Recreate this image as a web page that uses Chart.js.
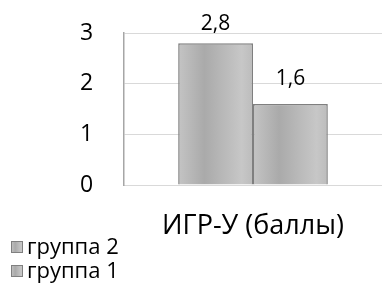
<!DOCTYPE html>
<html>
<head>
<meta charset="utf-8">
<script src="https://cdn.jsdelivr.net/npm/chart.js@4/dist/chart.umd.min.js"></script>
<style>
html,body{margin:0;padding:0;background:#fff;}
#wrap{width:382px;height:289px;position:relative;}
</style>
</head>
<body>
<div id="wrap"><canvas id="c" width="382" height="289"></canvas></div>
<script>
const categories = ["ИГР-У (баллы)"];
const seriesNames = ["группа 2", "группа 1"];
const group2Values = [2.8];
const group1Values = [1.6];
const yTicks = [0, 1, 2, 3];

const FONT = "'Open Sans', sans-serif";
const CAT_PCT = 0.58;

function barGradient(ctx, x0, x1) {
  const g = ctx.createLinearGradient(x0, 0, x1, 0);
  g.addColorStop(0, '#c4c4c4');
  g.addColorStop(0.35, '#aaaaaa');
  g.addColorStop(0.85, '#c7c7c7');
  g.addColorStop(1, '#bcbcbc');
  return g;
}

function scriptBg(context) {
  const chart = context.chart;
  const xs = chart.scales && chart.scales.x;
  if (!xs || !chart.chartArea) return '#b5b5b5';
  const center = xs.getPixelForTick(context.dataIndex || 0);
  const catW = xs.width / chart.data.labels.length;
  const total = catW * CAT_PCT;
  const n = chart.data.datasets.length;
  const bw = total / n;
  const left = center - total / 2 + context.datasetIndex * bw;
  return barGradient(chart.ctx, left, left + bw);
}

const fmt = v => String(v).replace('.', ',');

const dataLabelPlugin = {
  id: 'dataLabels',
  afterDatasetsDraw(chart) {
    const ctx = chart.ctx;
    ctx.save();
    ctx.font = "21px " + FONT;
    ctx.fillStyle = '#000';
    ctx.textAlign = 'center';
    ctx.textBaseline = 'alphabetic';
    chart.data.datasets.forEach((ds, di) => {
      const meta = chart.getDatasetMeta(di);
      meta.data.forEach((el, i) => {
        const y = Math.max(el.y - 19, 30);
        ctx.fillText(fmt(ds.data[i]), el.x, y);
      });
    });
    ctx.restore();
  }
};

const legendPlugin = {
  id: 'vertLegend',
  afterDraw(chart) {
    const ctx = chart.ctx;
    ctx.save();
    ctx.font = "22px " + FONT;
    ctx.textBaseline = 'middle';
    ctx.textAlign = 'left';
    chart.data.datasets.forEach((ds, i) => {
      const cy = 246 + i * 24;
      const bx = 11, by = cy - 5, bs = 12;
      ctx.fillStyle = barGradient(ctx, bx, bx + bs);
      ctx.fillRect(bx, by, bs, bs);
      ctx.strokeStyle = '#808080';
      ctx.lineWidth = 1;
      ctx.strokeRect(bx + 0.5, by + 0.5, bs - 1, bs - 1);
      ctx.fillStyle = '#000';
      ctx.fillText(ds.label, 27, cy + 2);
    });
    ctx.restore();
  }
};

new Chart(document.getElementById('c'), {
  type: 'bar',
  data: {
    labels: categories,
    datasets: [
      { label: seriesNames[0], data: group2Values, backgroundColor: scriptBg, borderColor: '#7f7f7f' },
      { label: seriesNames[1], data: group1Values, backgroundColor: scriptBg, borderColor: '#7f7f7f' }
    ]
  },
  options: {
    responsive: false,
    animation: false,
    devicePixelRatio: 1,
    layout: { padding: { top: 33, right: 0, bottom: 50, left: 80 } },
    datasets: {
      bar: {
        borderWidth: 1.5,
        categoryPercentage: CAT_PCT,
        barPercentage: 1
      }
    },
    plugins: {
      legend: { display: false },
      tooltip: { enabled: false },
      colors: { enabled: false }
    },
    scales: {
      x: {
        grid: { display: false, drawTicks: false, tickLength: 0 },
        border: { display: true, color: '#d9d9d9', width: 1 },
        ticks: { color: '#000', font: { family: FONT, size: 27 }, padding: 25, maxRotation: 0 },
        afterFit(s) { s.height = 54; }
      },
      y: {
        min: 0,
        max: 3,
        afterBuildTicks(s) { s.ticks = yTicks.map(v => ({ value: v })); },
        grid: { color: '#d9d9d9', lineWidth: 1, drawTicks: false, tickLength: 0 },
        border: { display: true, color: '#a6a6a6', width: 1.5 },
        ticks: { color: '#000', font: { family: FONT, size: 23 }, padding: 0, crossAlign: 'far' },
        afterFit(s) { s.width = 44; }
      }
    }
  },
  plugins: [dataLabelPlugin, legendPlugin]
});
</script>
</body>
</html>
